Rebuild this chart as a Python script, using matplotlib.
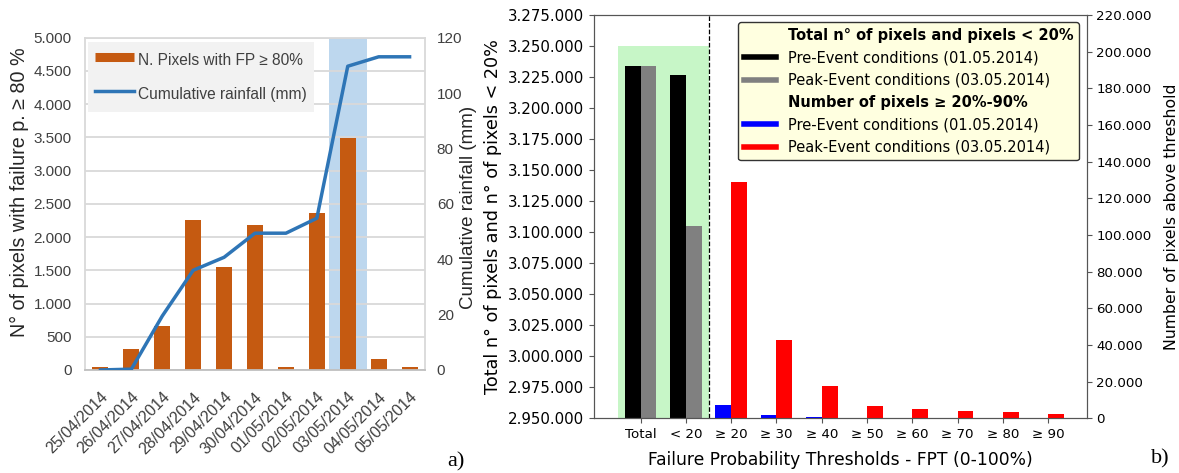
import numpy as np
import matplotlib
matplotlib.use("Agg")
import matplotlib.pyplot as plt
from matplotlib.lines import Line2D
from matplotlib.ticker import FuncFormatter

# panel a data
dates = ["25/04/2014", "26/04/2014", "27/04/2014", "28/04/2014", "29/04/2014", "30/04/2014",
         "01/05/2014", "02/05/2014", "03/05/2014", "04/05/2014", "05/05/2014"]
pixels_fp80 = [50, 320, 655, 2250, 1545, 2180, 50, 2360, 3490, 160, 50]
cum_rain = [0, 0.3, 19.5, 36, 40.7, 49.4, 49.4, 54.8, 109.7, 113.1, 113.1]
peak_day = "03/05/2014"

# panel b data
thresholds = ["Total", "< 20", "\u2265 20", "\u2265 30", "\u2265 40", "\u2265 50",
              "\u2265 60", "\u2265 70", "\u2265 80", "\u2265 90"]
total_pre = [3233700, 3226700]
total_peak = [3233700, 3104900]
above_pre = [7100, 2000, 900, 150, 100, 80, 60, 50]
above_peak = [128700, 42800, 17800, 6700, 5250, 4150, 3450, 2350]


def dots(v, pos):
    return f"{int(v):,}".replace(",", ".")


fig = plt.figure(figsize=(11.79, 4.73), dpi=100)

# ---------------- a) ----------------
sans_a = "Liberation Sans"
grey_txt = "#404040"
ax = fig.add_axes([0.0721, 0.2178, 0.2884, 0.7025])
x = np.arange(len(dates))
pk = dates.index(peak_day)
ax.axvspan(pk - 0.61, pk + 0.61, color="#BDD7EE", zorder=0, lw=0)
ax.bar(x, pixels_fp80, width=0.52, color="#C55A11", zorder=2)
ax.set_xlim(-0.5, len(dates) - 0.5)
ax.set_ylim(0, 5000)
ax.set_yticks(np.arange(0, 5001, 500))
ax.yaxis.set_major_formatter(FuncFormatter(dots))
ax.grid(axis="y", color="#d9d9d9", lw=1.3)
ax.set_axisbelow(True)
for s in ax.spines.values():
    s.set_color("#d9d9d9")
    s.set_linewidth(1.3)
ax.spines["bottom"].set_color("#bfbfbf")
ax.tick_params(length=0, labelcolor=grey_txt, labelsize=11)
ax.tick_params(axis="y", pad=9.5)
ax.tick_params(axis="x", pad=14)
ax.set_xticks(x)
ax.set_xticklabels(dates, rotation=45, ha="right", rotation_mode="anchor",
                   fontfamily=sans_a, fontsize=11.5)
for t in ax.get_yticklabels():
    t.set_fontfamily(sans_a)
ax.set_ylabel("N\u00b0 of pixels with failure p. \u2265 80 %", fontfamily=sans_a,
              fontsize=14.2, color="#262626")
ax.yaxis.set_label_coords(-0.165, 0.534)

ax2 = ax.twinx()
ax2.plot(x, cum_rain, color="#2E75B6", lw=2.5, zorder=3)
ax2.set_ylim(0, 120)
ax2.set_yticks(np.arange(0, 121, 20))
for s in ax2.spines.values():
    s.set_visible(False)
ax2.tick_params(length=0, labelcolor=grey_txt, labelsize=11, pad=8.5)
for t in ax2.get_yticklabels():
    t.set_fontfamily(sans_a)
ax2.set_ylabel("Cumulative rainfall (mm)", fontfamily=sans_a, fontsize=13.5,
               color="#262626")
ax2.yaxis.set_label_coords(1.103, 0.49)

handles = [Line2D([], [], color="#C55A11", lw=6.5, solid_capstyle="butt"),
           Line2D([], [], color="#2E75B6", lw=2.5)]
leg = ax2.legend(handles, ["N. Pixels with FP \u2265 80%", "Cumulative rainfall (mm)"],
                 loc="upper left", bbox_to_anchor=(0.0088, 0.988), borderaxespad=0,
                 prop={"family": sans_a, "size": 11.2}, frameon=True, fancybox=False,
                 facecolor="#f2f2f2", edgecolor="none", framealpha=1,
                 handlelength=2.5, handleheight=1.8, handletextpad=0.26,
                 labelspacing=0.8, borderpad=0.45)
for t in leg.get_texts():
    t.set_color(grey_txt)

fig.text(0.379, 0.0148, "a)", fontfamily="Liberation Serif", fontsize=16)

# ---------------- b) ----------------
spine_c = "#555555"
bx = fig.add_axes([0.5038, 0.1156, 0.4179, 0.8526])
xb = np.arange(len(thresholds))
w = 0.35
n_tot = len(total_pre)
bx.fill_between([xb[0] - 0.5, xb[n_tot - 1] + 0.5], 2950000, 3250000,
                color="lightgreen", alpha=0.5, lw=0, zorder=0)
bx.bar(xb[:n_tot] - w / 2, total_pre, width=w, color="black", zorder=2)
bx.bar(xb[:n_tot] + w / 2, total_peak, width=w, color="grey", zorder=2)
bx.axvline(xb[n_tot - 1] + 0.5, color="black", ls="--", lw=0.9)
bx.set_xlim(-1.03, 9.85)
bx.set_ylim(2950000, 3275000)
bx.set_yticks(np.arange(2950000, 3275001, 25000))
bx.yaxis.set_major_formatter(FuncFormatter(dots))
bx.set_xticks(xb)
bx.set_xticklabels(thresholds)
bx.tick_params(axis="y", labelsize=10.8, color=spine_c)
bx.tick_params(axis="x", labelsize=9.6, color=spine_c)
for s in bx.spines.values():
    s.set_color(spine_c)
bx.set_ylabel("Total n\u00b0 of pixels and n\u00b0 of pixels < 20%", fontsize=12.7,
              labelpad=4)
bx.set_xlabel("Failure Probability Thresholds - FPT (0-100%)", fontsize=12.3, labelpad=7)

bx2 = bx.twinx()
bx2.bar(xb[n_tot:] - w / 2, above_pre, width=w, color="blue")
bx2.bar(xb[n_tot:] + w / 2, above_peak, width=w, color="red")
bx2.set_ylim(0, 220000)
bx2.set_yticks(np.arange(0, 220001, 20000))
bx2.yaxis.set_major_formatter(FuncFormatter(dots))
bx2.tick_params(labelsize=9.6, color=spine_c)
for s in bx2.spines.values():
    s.set_color(spine_c)
bx2.set_ylabel("Number of pixels above threshold", fontsize=11.3, labelpad=9)

blank = Line2D([], [], color="none")
lh = [blank, Line2D([], [], color="black", lw=4), Line2D([], [], color="grey", lw=4),
      blank, Line2D([], [], color="blue", lw=4), Line2D([], [], color="red", lw=4)]
ll = ["Total n\u00b0 of pixels and pixels < 20%", "Pre-Event conditions (01.05.2014)",
      "Peak-Event conditions (03.05.2014)", "Number of pixels \u2265 20%-90%",
      "Pre-Event conditions (01.05.2014)", "Peak-Event conditions (03.05.2014)"]
lg = bx2.legend(lh, ll, loc="upper right", fontsize=10.5, facecolor="lightyellow",
                edgecolor="#333333", framealpha=1, handlelength=2.2)
lg.get_texts()[0].set_fontweight("bold")
lg.get_texts()[3].set_fontweight("bold")

fig.text(0.9765, 0.02, "b)", fontfamily="Liberation Serif", fontsize=16)

fig.savefig("out.png", dpi=100)
